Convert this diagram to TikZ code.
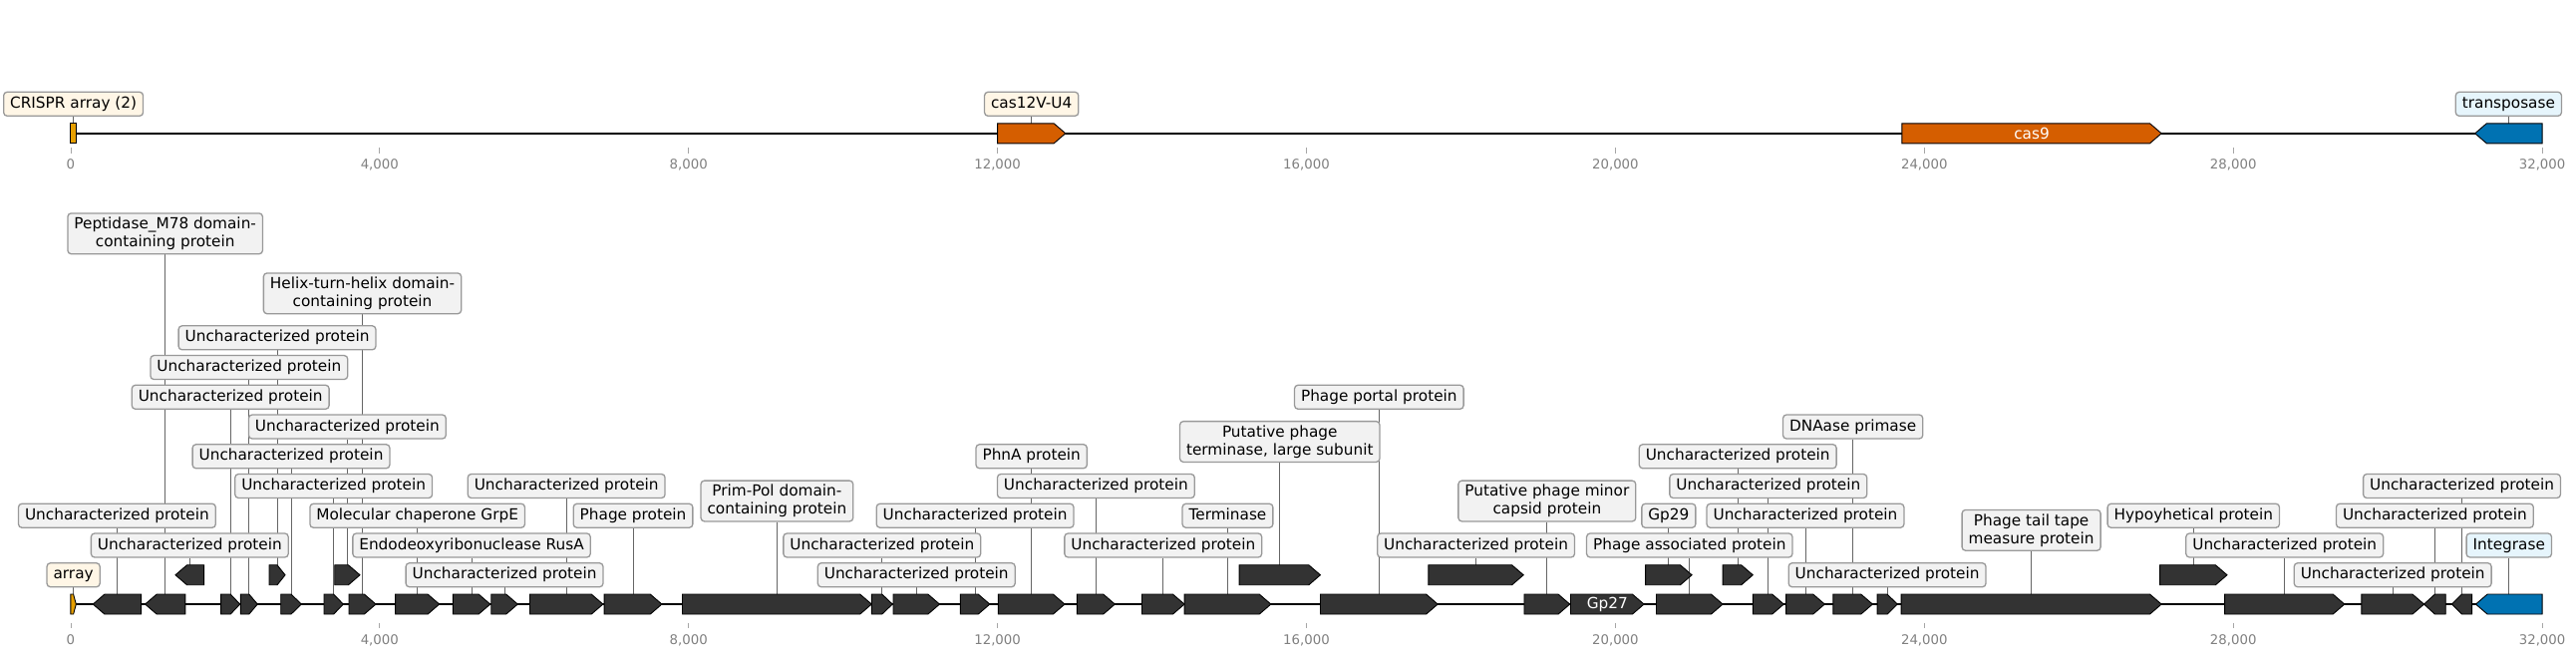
\documentclass[tikz,border=0pt]{standalone}
\usepackage{fontspec}
\setmainfont{DejaVu Sans}
\usetikzlibrary{backgrounds}

\definecolor{genegray}{HTML}{333333}
\definecolor{crisprcol}{HTML}{E69F00}
\definecolor{cascol}{HTML}{D55E00}
\definecolor{tncol}{HTML}{0072B2}
\definecolor{boxfill}{HTML}{F2F2F2}
\definecolor{boxedge}{HTML}{999999}
\definecolor{creamfill}{HTML}{FFF6E6}
\definecolor{bluefill}{HTML}{E6F5FC}
\definecolor{axisgray}{HTML}{808080}

\tikzset{
  gene/.style={draw=black,line width=0.9pt},
  lblbase/.style={draw=boxedge,fill=boxfill,line width=1.3pt,rounded corners=3.5pt,
    font=\fontsize{15.3}{18}\selectfont,inner xsep=6.5pt,inner ysep=4.5pt},
  lbl/.style={lblbase,text height=11.5pt,text depth=3.5pt},
  lbltwo/.style={lblbase,align=center,inner ysep=4pt},
  cream/.style={fill=creamfill},
  bluebox/.style={fill=bluefill},
  conn/.style={draw=black!60,line width=0.8pt},
  tickmark/.style={draw=axisgray!70,line width=0.8pt},
  ticklbl/.style={text=axisgray,font=\fontsize{13.3}{16}\selectfont},
  inlbl/.style={text=white,font=\fontsize{15.3}{18}\selectfont}
}

% name, start (kb), end (kb), y, strand, colour
\newcommand{\gene}[6]{%
  \pgfmathsetmacro{\tip}{min(0.15,(#3-#2)/2)}%
  \ifnum#5>0
    \draw[gene,fill=#6] (#2,#4-10) -- (#3-\tip,#4-10) -- (#3,#4) -- (#3-\tip,#4+10) -- (#2,#4+10) -- cycle;
  \else\ifnum#5<0
    \draw[gene,fill=#6] (#3,#4-10) -- (#2+\tip,#4-10) -- (#2,#4) -- (#2+\tip,#4+10) -- (#3,#4+10) -- cycle;
  \else
    \draw[gene,fill=#6] (#2,#4-10) rectangle (#3,#4+10);
  \fi\fi
  \coordinate (#1) at ({(#2+#3)/2},#4-10);}

\begin{document}
\begin{tikzpicture}[x=77.47pt,y=-1pt]
  \useasboundingbox (-0.9152,0) rectangle (32.4378,659);

  % top panel
  \foreach \n/\s/\e/\d/\c in {t1/0/0.07/0/crisprcol,t2/12.0/12.88/1/cascol,
      t3/23.71/27.07/1/cascol,t4/31.13/32.0/-1/tncol}
    \gene{\n}{\s}{\e}{133.8}{\d}{\c};
  \node[inlbl] (cas9) at ({(23.71+27.07)/2},133.8) {cas9};
  \node[lbl,cream] (lt1) at (t1 |- 0,104.3) {CRISPR array (2)};
  \node[lbl,cream] (lt2) at (t2 |- 0,104.3) {cas12V-U4};
  \node[lbl,bluebox] (lt4) at (t4 |- 0,104.3) {transposase};

  % bottom panel, main row
  \foreach \n/\s/\e/\d/\c in {g1/0/0.07/1/crisprcol,g2/0.289/0.912/-1/genegray,
      g3/0.964/1.483/-1/genegray,g4/1.946/2.192/1/genegray,g5/2.200/2.419/1/genegray,
      g6/2.721/2.987/1/genegray,g7/3.280/3.529/1/genegray,g8/3.603/3.951/1/genegray,
      g9/4.205/4.773/1/genegray,g10/4.949/5.432/1/genegray,g11/5.445/5.788/1/genegray,
      g12/5.945/6.892/1/genegray,g13/6.909/7.654/1/genegray,g14/7.92/10.37/1/genegray,
      g15/10.37/10.64/1/genegray,g16/10.65/11.25/1/genegray,g17/11.52/11.90/1/genegray,
      g18/12.01/12.87/1/genegray,g19/13.03/13.52/1/genegray,g20/13.87/14.42/1/genegray,
      g21/14.42/15.54/1/genegray,g22/16.18/17.70/1/genegray,g23/18.82/19.41/1/genegray,
      g24/19.42/20.37/1/genegray,g25/20.53/21.39/1/genegray,g26/21.78/22.18/1/genegray,
      g27/22.21/22.71/1/genegray,g28/22.82/23.33/1/genegray,g29/23.39/23.65/1/genegray,
      g30/23.70/27.07/1/genegray,g31/27.89/29.44/1/genegray,g32/29.66/30.47/1/genegray,
      g33/30.47/30.75/-1/genegray,g34/30.83/31.09/-1/genegray,g35/31.14/32.0/-1/tncol}
    \gene{\n}{\s}{\e}{606}{\d}{\c};

  % bottom panel, upper row
  \foreach \n/\s/\e/\d in {h1/1.356/1.726/-1,h2/2.570/2.777/1,h3/3.418/3.745/1,
      h4/15.13/16.18/1,h5/17.58/18.81/1,h6/20.39/20.99/1,h7/21.39/21.78/1,h8/27.05/27.92/1}
    \gene{\n}{\s}{\e}{576.7}{\d}{genegray};

  \node[inlbl] (gp27) at ({(19.42+20.37)/2},606) {Gp27};

  % labels, one level = 29.74
  \foreach \f/\k in {g2/2,h1/1,g4/6,g5/7,h2/8,g6/4,h3/5,g7/3,g11/0,g12/3,g15/1,g16/0,
      g17/2,g19/3,g20/1,h5/1,h7/4,g26/3,g27/2,g29/0,g31/1,g32/0,g33/2,g34/3}
    \node[lbl] (l\f) at (\f |- 0,{576.7-29.74*\k}) {Uncharacterized protein};

  \foreach \f/\k/\t in {g9/2/Molecular chaperone GrpE,g10/1/Endodeoxyribonuclease RusA,
      g13/2/Phage protein,g18/4/PhnA protein,g21/2/Terminase,g22/6/Phage portal protein,
      h6/2/Gp29,g25/1/Phage associated protein,g28/5/DNAase primase,h8/2/Hypoyhetical protein}
    \node[lbl] (l\f) at (\f |- 0,{576.7-29.74*\k}) {\t};

  \node[lbl,cream] (lg1) at (g1 |- 0,576.7) {array};
  \node[lbl,bluebox] (lg35) at (g35 |- 0,546.96) {Integrase};

  \node[lbltwo] (lg3) at (g3 |- 0,234.3) {Peptidase\_M78 domain-\\containing protein};
  \node[lbltwo] (lg8) at (g8 |- 0,294.3) {Helix-turn-helix domain-\\containing protein};
  \node[lbltwo] (lg14) at (g14 |- 0,502.5) {Prim-Pol domain-\\containing protein};
  \node[lbltwo] (lh4) at (h4 |- 0,443) {Putative phage\\terminase, large subunit};
  \node[lbltwo] (lg23) at (g23 |- 0,502.5) {Putative phage minor\\capsid protein};
  \node[lbltwo] (lg30) at (g30 |- 0,531.8) {Phage tail tape\\measure protein};

  % axes
  \foreach \k/\t in {0/0,4/{4,000},8/{8,000},12/{12,000},16/{16,000},20/{20,000},
      24/{24,000},28/{28,000},32/{32,000}} {
    \draw[tickmark] (\k,148.3) -- (\k,154);
    \node[ticklbl] (ta\k) at (\k,165) {\t};
    \draw[tickmark] (\k,625) -- (\k,629.5);
    \node[ticklbl] (tb\k) at (\k,642) {\t};
  }

  \begin{scope}[on background layer]
    \draw[line width=2pt] (0,133.5) -- (32,133.5);
    \draw[line width=2pt] (0,606) -- (32,606);
    \foreach \f in {t1,t2,t4}
      \draw[conn] (l\f.south) -- (\f);
    \foreach \f in {g1,g2,g3,g4,g5,g6,g7,g8,g9,g10,g11,g12,g13,g14,g15,g16,g17,g18,g19,
        g20,g21,g22,g23,g25,g26,g27,g28,g29,g30,g31,g32,g33,g34,g35,h1,h2,h3,h4,h5,h6,h7,h8}
      \draw[conn] (l\f.south) -- (\f);
  \end{scope}
\end{tikzpicture}
\end{document}
